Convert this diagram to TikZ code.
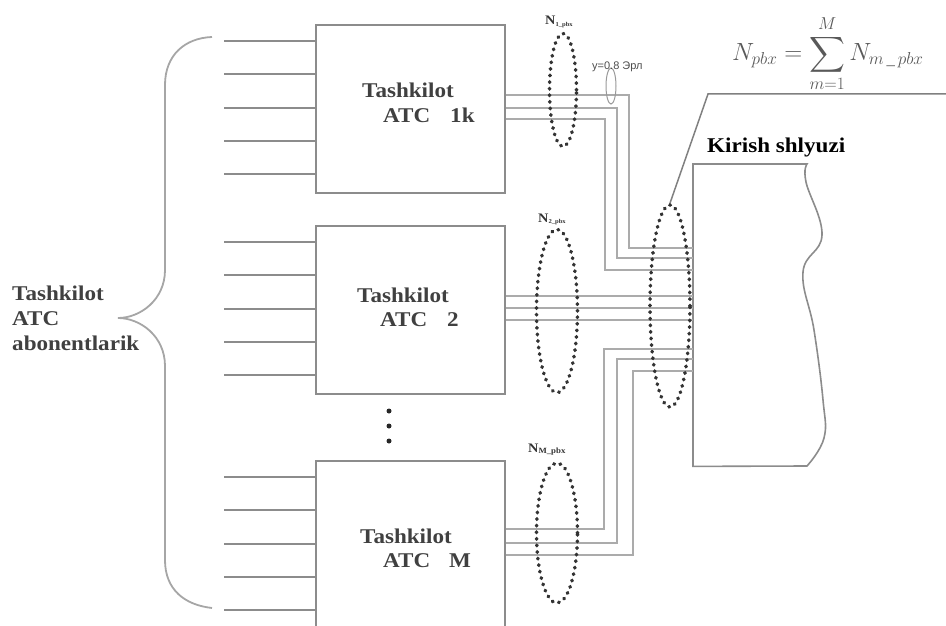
\documentclass[tikz,border=0pt]{standalone}
\usepackage{amsmath}
\usepackage{fontspec}
\setmainfont{Liberation Serif}
\newfontfamily\lbl{Liberation Serif}[FakeStretch=1.1]
\newfontfamily\sanslbl{Liberation Sans}
\usetikzlibrary{shapes.geometric,calc}
\begin{document}
\begin{tikzpicture}[x=1pt,y=-1pt,
  box/.style={draw=black!45, line width=1.8pt, minimum width=189pt, minimum height=168pt, inner sep=0pt, anchor=north west},
  inwire/.style={draw=black!45, line width=1.7pt},
  wire/.style={draw=black!33, line width=1.5pt},
  gwline/.style={draw=black!45, line width=1.6pt},
  dotring/.style={ellipse, draw=black!80, line width=3.6pt, dash pattern=on 0.6pt off 6pt, line cap=round, inner sep=0pt},
  boxtext/.style={font=\lbl\bfseries\fontsize{21}{21}\selectfont, text=black!75, anchor=base west, inner sep=0pt},
  nlab/.style={anchor=base west, inner sep=0pt, text=black!80},
  dotnode/.style={circle, fill=black!85, inner sep=0pt, minimum size=5pt}
]
\useasboundingbox (0,0) rectangle (946,626);

% boxes
\node[box] (b1) at (315,24) {};
\node[box] (b2) at (315,225) {};
\node[box] (bM) at (315,460) {};

% box texts
\node[boxtext] (t1a) at (362,98) {Tashkilot};
\node[boxtext] (t1b) at (383,123) {ATC\hspace{20pt}1k};
\node[boxtext] (t2a) at (357,302) {Tashkilot};
\node[boxtext] (t2b) at (380,326) {ATC\hspace{20pt}2};
\node[boxtext] (tMa) at (360,543) {Tashkilot};
\node[boxtext] (tMb) at (383,567) {ATC\hspace{19pt}M};

% subscriber lines
\foreach \b in {b1,b2,bM}
  \foreach \d in {17,50,84,117,150}
    \draw[inwire] ($(\b.north west)+(-91,\d)$) -- ($(\b.north west)+(0,\d)$);

% brace
\draw[draw=black!35, line width=1.8pt]
  (212,37) .. controls (185,38) and (165,55) .. (165,85) -- (165,270)
  .. controls (165,300) and (140,318) .. (118,318)
  .. controls (140,318) and (165,336) .. (165,366) -- (165,560)
  .. controls (165,590) and (185,605) .. (212,608);

% left label
\node[boxtext] (la) at (12,300) {Tashkilot};
\node[boxtext] (lb) at (12,325) {ATC};
\node[boxtext] (lc) at (12,350) {abonentlarik};

% dots between boxes
\node[dotnode] (d1) at (389,411) {};
\node[dotnode] (d2) at (389,426) {};
\node[dotnode] (d3) at (389,441) {};

% gateway
\node[minimum width=114pt, minimum height=302pt, inner sep=0pt, anchor=north west] (gw) at (693,164) {};
\draw[gwline] plot[smooth, tension=0.7] coordinates {(807,164) (806,182) (822,235) (803,272) (814,330) (823,400) (824,438) (807,466)}
  -- (gw.south west) -- (gw.north west) -- cycle;
\node[boxtext, text=black] (kt) at (707,152) {Kirish shlyuzi};

% wires box 1
\draw[wire] ($(b1.north east)+(0,71)$) -| ($(gw.north west)+(-64,84)$) -- ($(gw.north west)+(0,84)$);
\draw[wire] ($(b1.north east)+(0,84)$) -| ($(gw.north west)+(-76,94)$) -- ($(gw.north west)+(0,94)$);
\draw[wire] ($(b1.north east)+(0,95)$) -| ($(gw.north west)+(-88,106)$) -- ($(gw.north west)+(0,106)$);
% wires box 2
\draw[wire] ($(b2.north east)+(0,71)$) -- ($(gw.north west)+(0,132)$);
\draw[wire] ($(b2.north east)+(0,83)$) -- ($(gw.north west)+(0,144)$);
\draw[wire] ($(b2.north east)+(0,95)$) -- ($(gw.north west)+(0,156)$);
% wires box M
\draw[wire] ($(bM.north east)+(0,69)$) -| ($(gw.north west)+(-89,185)$) -- ($(gw.north west)+(0,185)$);
\draw[wire] ($(bM.north east)+(0,83)$) -| ($(gw.north west)+(-76,195)$) -- ($(gw.north west)+(0,195)$);
\draw[wire] ($(bM.north east)+(0,95)$) -| ($(gw.north west)+(-60,207)$) -- ($(gw.north west)+(0,207)$);

% dotted rings
\node[dotring, minimum width=27pt, minimum height=113pt] (e1) at (563,90) {};
\node[dotring, minimum width=41pt, minimum height=163pt] (e2) at (557,311) {};
\node[dotring, minimum width=41pt, minimum height=140pt] (eM) at (557,533) {};
\node[dotring, minimum width=40pt, minimum height=202pt] (eg) at (670,306) {};
\node[ellipse, draw=black!40, line width=1pt, inner sep=0pt, minimum width=10pt, minimum height=36pt] (ey) at (611,86) {};

% ring labels
\node[nlab] (n1) at (545,25) {{\lbl\bfseries\fontsize{13}{13}\selectfont N}\raisebox{-1.5pt}{\lbl\bfseries\fontsize{6}{6}\selectfont 1\_pbx}};
\node[nlab] (n2) at (538,222) {{\lbl\bfseries\fontsize{13}{13}\selectfont N}\raisebox{-1.5pt}{\lbl\bfseries\fontsize{6}{6}\selectfont 2\_pbx}};
\node[nlab] (nM) at (528,452) {{\lbl\bfseries\fontsize{13}{13}\selectfont N}\raisebox{-1.5pt}{\lbl\bfseries\fontsize{8}{8}\selectfont M\_pbx}};
\node[nlab, text=black!70, font=\sanslbl\fontsize{11}{11}\selectfont] (yl) at (592,70) {y=0.8 Эрл};

% formula and leader line
\node[anchor=base west, inner sep=0pt, text=black!65, font=\fontsize{24}{24}\selectfont] (f) at (732,61)
  {$\displaystyle N_{pbx}=\sum_{m=1}^{M}N_{m\,\_\,pbx}$};
\coordinate (bend) at (708,94);
\coordinate (lineend) at (946,94);
\draw[black!50, line width=1.5pt] (eg.north) -- (bend) -- (lineend);
\end{tikzpicture}
\end{document}
